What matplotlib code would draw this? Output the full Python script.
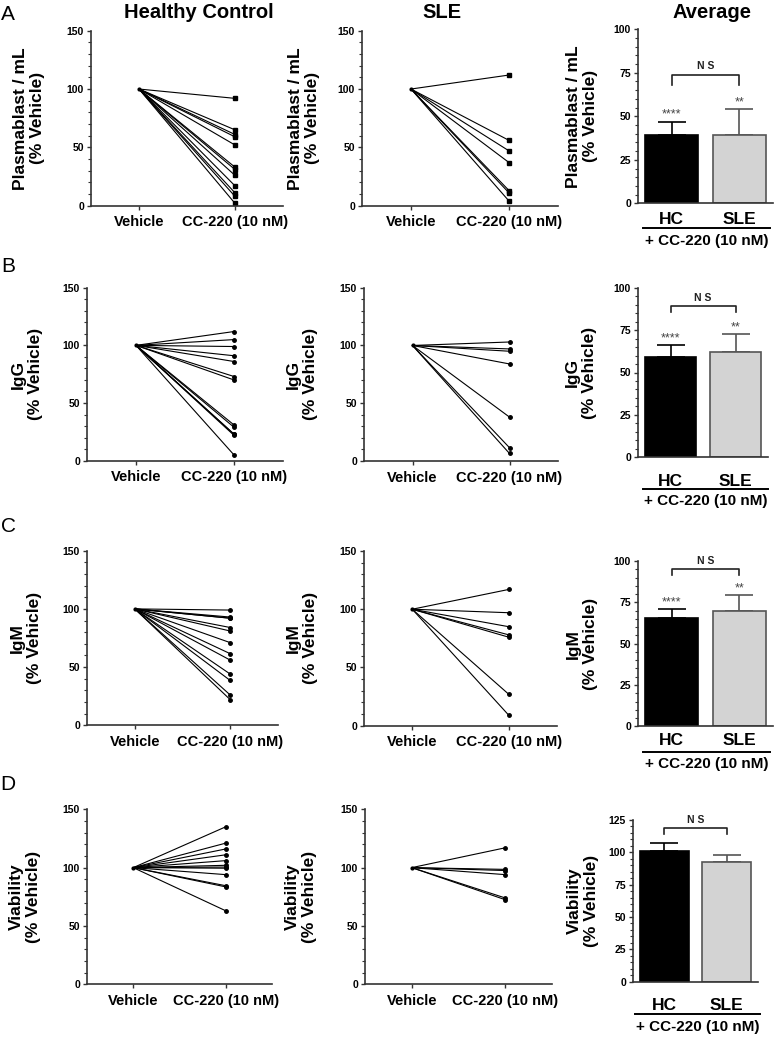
import matplotlib
matplotlib.use('Agg')
import matplotlib.pyplot as plt
from matplotlib.lines import Line2D
from matplotlib.ticker import MultipleLocator

plt.rcParams['font.family'] = ['Liberation Sans', 'DejaVu Sans']

W, H = 774, 1039
fig = plt.figure(figsize=(W / 100, H / 100), dpi=100)

# ---------------- data ----------------
conditions = ['Vehicle', 'CC-220 (10 nM)']
bar_groups = ['HC', 'SLE']
treatment_label = '+ CC-220 (10 nM)'
vehicle_level = 100
row_letters = ['A', 'B', 'C', 'D']
col_titles = ['Healthy Control', 'SLE', 'Average']
ylabels = ['Plasmablast / mL\n(% Vehicle)', 'IgG\n(% Vehicle)',
           'IgM\n(% Vehicle)', 'Viability\n(% Vehicle)']

hc_plasmablast = [92, 65, 61, 59, 52, 33, 31, 26, 17, 11, 8, 2]
sle_plasmablast = [112, 56, 47, 37, 13, 11, 4]
hc_igg = [112, 105, 99, 91, 86, 73, 70, 31, 29, 23, 23, 22, 5]
sle_igg = [103, 97, 95, 84, 38, 11.5, 6.5]
hc_igm = [99, 93, 92, 92, 84, 81, 71, 61.5, 56, 44, 38.5, 26, 22]
sle_igm = [117, 97, 85, 78, 76, 27, 9]
hc_viability = [135, 121, 116, 111, 106, 102, 100.5, 99.5, 94, 84.5, 83.5, 63]
sle_viability = [117, 98.5, 97.5, 94, 74, 72.5]

avg_plasmablast = [39.5, 39.5]
sem_plasmablast = [7.5, 14.5]
stars_plasmablast = ['****', '**']
avg_igg = [59, 62]
sem_igg = [7.2, 10.7]
stars_igg = ['****', '**']
avg_igm = [65.7, 69.6]
sem_igm = [5.5, 10]
stars_igm = ['****', '**']
avg_viability = [101, 92.3]
sem_viability = [6.2, 5.7]
stars_viability = ['', '']
ns_label = 'N S'

hc_rows = [hc_plasmablast, hc_igg, hc_igm, hc_viability]
sle_rows = [sle_plasmablast, sle_igg, sle_igm, sle_viability]
avg_rows = [avg_plasmablast, avg_igg, avg_igm, avg_viability]
sem_rows = [sem_plasmablast, sem_igg, sem_igm, sem_viability]
star_rows = [stars_plasmablast, stars_igg, stars_igm, stars_viability]

# ---------------- layout (pixels) ----------------
hc_boxes = [(91, 283, 30.7, 205.7), (87, 283, 287.7, 460.7),
            (87, 278, 550.7, 725.3), (87, 272, 809.3, 984.3)]
sle_boxes = [(362, 558, 30.7, 205.7), (364, 558, 287.7, 461),
             (364, 557, 551, 725.7), (365, 552, 809.3, 984.3)]
avg_boxes = [(638, 773, 29.3, 203.3), (638, 768, 287.7, 457.3),
             (638, 773, 561, 726.3), (633, 758, 820, 981.7)]
avg_ymax = [100, 100, 100, 125]
bracket_top = [73.8, 89.2, 95.2, 118.6]
bracket_drop = [5.8, 3.3, 3.7, 4.4]
hc_sle_pad = [6.5, 12, 5, 11.5]
underline_y = [228, 489, 752, 1014]
underline_x = [(643, 770), (643, 768), (643, 770), (635, 760)]
treat_y = [241, 501, 764, 1027]
letter_y = [14, 266, 527, 785]
ylabel_x = [(29, 304, 582), (27, 302, 581), (26, 302, 582), (25, 301, 583)]
markers = ['s', 'o', 'o', 'o']

spine_color = '#333333'


def add_ax(box):
    x0, x1, yt, yb = box
    return fig.add_axes([x0 / W, 1 - yb / H, (x1 - x0) / W, (yb - yt) / H])


def style(ax):
    for s in ['top', 'right']:
        ax.spines[s].set_visible(False)
    for s in ['left', 'bottom']:
        ax.spines[s].set_color(spine_color)
        ax.spines[s].set_linewidth(1.2)
    ax.tick_params(axis='y', which='major', length=3, width=1, color=spine_color,
                   labelsize=7.5, pad=2)
    ax.tick_params(axis='y', which='minor', length=2, width=0.8, color=spine_color)
    for lab in ax.get_yticklabels():
        lab.set_fontweight('bold')


def line_panel(ax, values, marker):
    for v in values:
        ax.plot([0, 1], [vehicle_level, v], color='black', lw=0.8,
                marker=marker, ms=3.0 if marker == 's' else 2.5,
                markevery=[1], mfc='black', mec='black')
    ax.plot([0], [vehicle_level], 'o', color='black', ms=2)
    ax.set_xlim(-0.5, 1.5)
    ax.set_ylim(0, 150)
    ax.set_yticks([0, 50, 100, 150])
    ax.yaxis.set_minor_locator(MultipleLocator(10))
    ax.set_xticks([0, 1])
    ax.set_xticklabels(conditions, fontsize=10.5, fontweight='bold')
    ax.tick_params(axis='x', length=3, width=1, color=spine_color, pad=4)
    style(ax)


def bar_panel(ax, means, sems, stars, ymax, btop, bdrop, pad):
    x = [0, 1]
    ax.bar(x, means, width=0.78, color=['black', '#d3d3d3'],
           edgecolor=['black', '#555555'], linewidth=1.2, zorder=2)
    for xi, m, s, c, st in zip(x, means, sems, ['black', '#555555'], stars):
        ax.errorbar([xi], [m], yerr=[[0], [s]], color=c, capsize=10,
                    elinewidth=1.2, capthick=1.2, zorder=1, fmt='none')
        if st:
            ax.text(xi, m + s + 0.04 * ymax, st, ha='center', va='center',
                    fontsize=9, color='#444444')
    ax.plot([0, 0, 1, 1], [btop - bdrop, btop, btop, btop - bdrop],
            color='#222222', lw=1.2, clip_on=False)
    ax.text(0.5, btop + 0.02 * ymax, ns_label, ha='center', va='bottom',
            fontsize=7.5, fontweight='bold', color='#222222')
    ax.set_xlim(-0.5, 1.5)
    ax.set_ylim(0, ymax)
    ax.yaxis.set_major_locator(MultipleLocator(25))
    ax.yaxis.set_minor_locator(MultipleLocator(5))
    ax.set_xticks(x)
    ax.set_xticklabels(bar_groups, fontsize=12.5, fontweight='bold')
    ax.tick_params(axis='x', length=0, pad=pad)
    style(ax)


for r in range(4):
    ax1 = add_ax(hc_boxes[r])
    line_panel(ax1, hc_rows[r], markers[r])
    ax2 = add_ax(sle_boxes[r])
    line_panel(ax2, sle_rows[r], markers[r])
    ax3 = add_ax(avg_boxes[r])
    bar_panel(ax3, avg_rows[r], sem_rows[r], star_rows[r], avg_ymax[r],
              bracket_top[r], bracket_drop[r], hc_sle_pad[r])

    # y labels
    for box, xl in zip([hc_boxes[r], sle_boxes[r], avg_boxes[r]], ylabel_x[r]):
        yc = (box[2] + box[3]) / 2
        fig.text(xl / W, 1 - yc / H, ylabels[r], rotation=90, ha='center',
                 va='center', fontsize=12.5, fontweight='bold',
                 linespacing=1.15, multialignment='center')

    # underline + treatment label
    ux0, ux1 = underline_x[r]
    fig.add_artist(Line2D([ux0 / W, ux1 / W], [1 - underline_y[r] / H] * 2,
                          transform=fig.transFigure, color='black', lw=1.4))
    fig.text((ux0 + ux1) / 2 / W, 1 - treat_y[r] / H, treatment_label,
             ha='center', va='center', fontsize=11, fontweight='bold')

    # row letter
    fig.text(8 / W, 1 - letter_y[r] / H, row_letters[r], ha='center',
             va='center', fontsize=15)

# column titles
for xc, t in zip([199, 442, 712], col_titles):
    fig.text(xc / W, 1 - 13 / H, t, ha='center', va='center',
             fontsize=14.5, fontweight='bold')

fig.savefig('out.png', dpi=100)
